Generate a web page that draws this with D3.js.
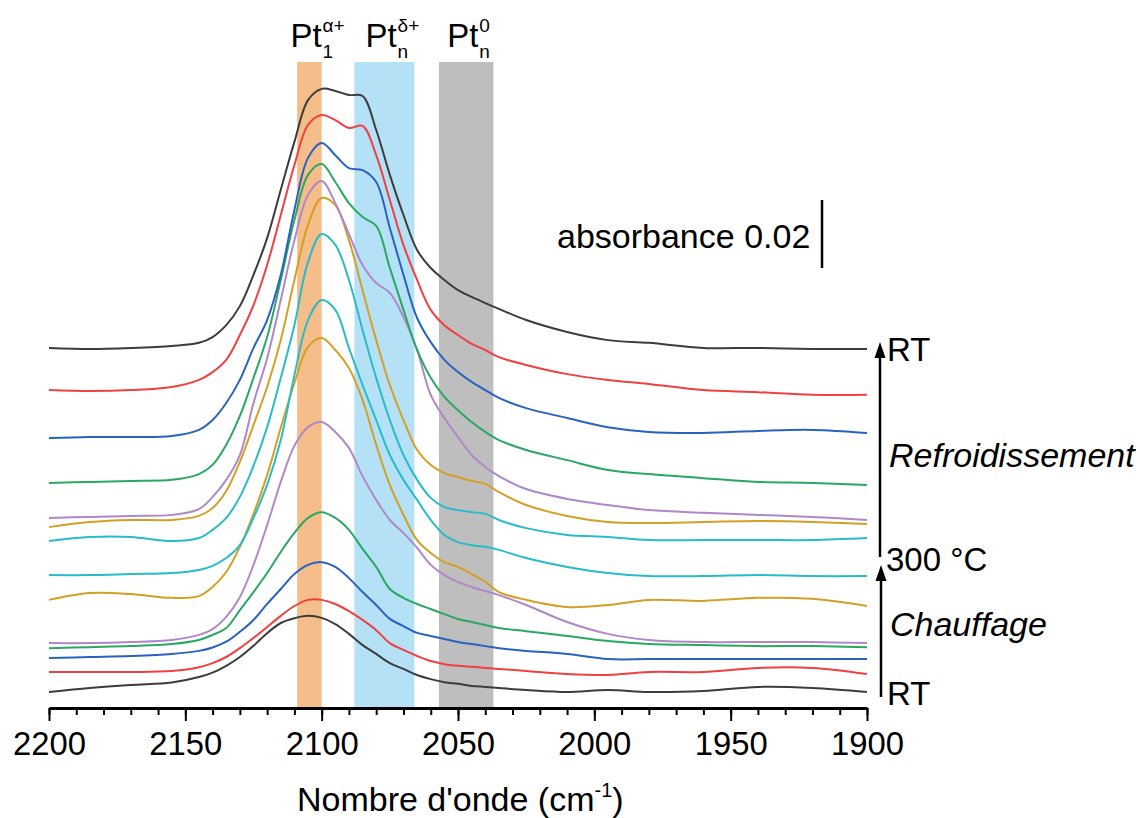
<!DOCTYPE html>
<html><head><meta charset="utf-8">
<script src="https://cdn.jsdelivr.net/npm/d3@7"></script>
<style>
body{margin:0;background:#fff;}
text{font-family:"Liberation Sans",Arial,sans-serif;fill:#000;}
</style>
</head><body>
<svg id="chart" width="1140" height="818"></svg>
<script>
// ---- DATA (absorbance in mAbs, stacked with offsets as in the figure) ----
const wavenumbers = [2200,2185,2170,2155,2145,2140,2135,2130,2125,2120,2115,2110,2105,2100,2095,2090,2085,2080,2075,2070,2065,2060,2055,2050,2045,2040,2035,2025,2010,1995,1980,1960,1940,1920,1900];

// Chauffage (heating, RT -> 300 °C)
const chauffageNoir   = [4.7,5.9,6.8,7.5,9.1,10.4,12.4,15.0,18.3,22.0,25.0,26.4,27.1,26.5,24.7,21.8,18.5,15.9,13.2,11.5,9.7,8.5,7.6,7.1,6.5,6.2,5.9,5.3,4.7,5.3,4.7,5.0,6.2,5.9,4.7];
const chauffageRouge  = [10.6,10.6,10.6,10.9,12.0,13.2,15.0,17.6,20.6,23.8,27.1,30.0,31.8,31.8,30.6,28.5,25.9,22.9,19.1,17.1,15.3,13.8,12.9,12.4,12.1,11.8,11.5,10.9,10.0,9.7,10.6,10.6,11.8,11.8,10.0];
const chauffageBleu   = [14.7,15.0,15.3,15.9,16.8,17.8,19.5,22.4,25.9,30.6,35.0,39.4,42.1,42.9,41.5,38.2,34.1,30.3,26.2,24.1,22.1,21.2,20.3,19.4,18.8,18.2,17.6,16.8,15.9,14.4,14.4,14.4,14.4,14.4,14.4];
const chauffageVert   = [17.6,17.9,18.2,18.8,20.0,21.5,23.5,28.8,34.1,39.7,45.9,51.5,55.9,57.6,55.9,52.4,46.8,41.5,35.0,32.4,30.6,29.1,27.6,26.2,25.3,24.4,23.5,22.6,21.2,19.7,18.8,18.5,18.2,18.2,17.9];
const chauffageViolet = [19.1,19.1,19.4,20.0,21.5,23.2,26.8,32.6,42.1,53.8,66.5,77.1,82.6,84.1,81.2,76.5,68.2,61.2,55.3,51.5,47.1,42.1,39.1,37.1,35.6,34.4,33.2,30.3,25.3,21.8,20.0,19.4,19.4,19.4,19.1];
const chauffageJaune  = [31.8,33.8,33.5,32.4,32.9,35.6,40.0,47.4,57.1,68.5,82.4,95.6,106.2,108.8,105.3,100.0,90.6,77.4,65.6,56.8,49.4,45.6,42.9,41.5,39.4,37.1,34.1,31.8,29.7,30.3,31.8,31.5,32.4,32.1,30.0];
const chauffageCyan   = [39.1,39.1,39.4,39.7,40.6,41.8,44.1,47.9,55.9,65.6,78.8,97.9,114.1,120.0,117.1,105.9,95.0,84.7,74.4,67.1,61.2,55.3,50.9,48.8,47.9,47.4,46.5,44.1,41.5,39.7,38.8,38.8,39.1,38.8,38.8];
// Refroidissement (cooling, 300 °C -> RT)
const refroidCyan     = [49.1,50.3,50.3,49.1,50.0,52.4,55.9,62.1,71.2,82.6,97.1,112.6,131.2,139.4,136.2,125.9,111.2,97.1,84.7,74.4,67.1,61.8,59.1,58.2,57.6,57.1,55.3,52.9,50.9,50.3,49.4,49.4,49.4,49.4,50.0];
const refroidJaune    = [53.2,54.7,55.3,55.3,56.5,58.8,63.8,72.4,83.2,94.4,108.2,125.9,142.1,150.0,147.9,137.6,122.9,108.2,95.0,84.7,75.9,71.5,69.1,67.9,66.8,65.9,63.5,59.7,56.5,54.7,54.4,54.7,55.0,54.7,54.1];
const refroidViolet   = [55.9,56.2,56.5,56.8,58.5,62.1,67.1,74.4,89.7,102.9,120.0,137.6,150.9,155.0,148.5,139.4,130.3,125.0,122.1,115.0,105.3,92.1,85.3,79.7,74.4,70.9,68.2,64.4,61.5,59.7,58.2,57.4,56.8,56.2,55.3];
const refroidVert     = [66.2,66.5,66.8,67.1,68.8,71.5,77.4,85.9,97.1,109.1,125.9,143.5,156.8,160.0,154.7,148.5,144.4,141.8,129.4,117.1,105.3,97.1,91.5,87.6,84.1,81.2,78.8,75.9,72.9,70.0,68.8,67.6,66.5,66.2,65.6];
const refroidBleu     = [79.4,79.7,79.7,80.0,81.8,84.7,89.7,96.5,105.9,114.1,127.4,146.5,161.8,166.2,162.6,158.8,158.2,154.7,141.2,127.4,114.7,107.6,102.4,98.8,95.9,93.5,91.2,88.2,85.3,82.6,81.2,80.9,81.5,81.8,80.9];
const refroidRouge    = [93.5,93.2,93.5,94.4,96.5,98.8,102.4,109.7,118.5,130.3,145.0,159.7,171.5,174.4,172.9,170.6,171.2,162.6,149.4,136.2,125.9,117.1,112.6,109.7,107.1,105.3,103.2,100.9,98.2,96.5,95.3,93.5,92.9,92.1,92.1];
const refroidNoir     = [105.9,105.6,105.9,106.5,107.4,109.1,112.6,118.2,127.4,138.2,152.4,166.5,178.8,182.1,181.5,180.3,180.0,170.0,156.8,145.0,134.7,129.4,125.9,122.9,120.9,119.1,117.4,114.1,110.6,108.2,107.4,105.9,105.9,105.6,105.6];

const spectra = [chauffageNoir, chauffageRouge, chauffageBleu, chauffageVert, chauffageViolet, chauffageJaune, chauffageCyan,
                 refroidCyan, refroidJaune, refroidViolet, refroidVert, refroidBleu, refroidRouge, refroidNoir];
const spectraColors = ["#3c3c3c","#f04040","#2a62c0","#2aa862","#b088c8","#d4a024","#28bcc8",
                       "#28bcc8","#d4a024","#b088c8","#2aa862","#2a62c0","#f04040","#3c3c3c"];

const bandRanges = [[2109,2100],[2088,2066],[2057,2037]];
const bandColors = ["#f5bd8a","#b4e1f6","#bebebe"];
const bandSup = ["\u03b1+","\u03b4+","0"];
const bandSub = ["1","n","n"];

const xMajorTicks = [2200,2150,2100,2050,2000,1950,1900];
const xMinorTicks = d3.range(2200,1899,-10);
const scaleBarValue = 20; // mAbs = 0.02

// ---- SCALES ----
const svg = d3.select("#chart");
const x = d3.scaleLinear().domain([2200,1900]).range([49,867]);
const y = d3.scaleLinear().domain([0,190]).range([708,62]);

// bands
svg.append("g").selectAll("rect").data(bandRanges).join("rect")
  .attr("x", d=>x(d[0])).attr("width", d=>x(d[1])-x(d[0]))
  .attr("y", y(190)).attr("height", y(0)-y(190))
  .attr("fill",(d,i)=>bandColors[i]);

// band labels
bandRanges.forEach((b,i)=>{
  const cx = x((b[0]+b[1])/2) - 19;
  const t = svg.append("text").attr("x",cx).attr("y",47).attr("font-size",33).text("Pt");
  const w = t.node().getComputedTextLength();
  svg.append("text").attr("x",cx+w+1).attr("y",32).attr("font-size",19).text(bandSup[i]);
  svg.append("text").attr("x",cx+w+1).attr("y",58).attr("font-size",19).text(bandSub[i]);
});

// spectra
const line = d3.line().x((d,i)=>x(wavenumbers[i])).y(d=>y(d)).curve(d3.curveCatmullRom.alpha(0.5));
svg.append("g").selectAll("path").data(spectra).join("path")
  .attr("d", line).attr("fill","none")
  .attr("stroke",(d,i)=>spectraColors[i]).attr("stroke-width",2);

// x axis
const axG = svg.append("g").attr("transform",`translate(0,${y(0)})`);
axG.call(d3.axisBottom(x).tickValues(xMinorTicks).tickSize(7).tickFormat(""))
  .call(g=>g.select(".domain").remove())
  .call(g=>g.selectAll("line").attr("stroke","#000").attr("stroke-width",2));
const axM = svg.append("g").attr("transform",`translate(0,${y(0)})`);
axM.call(d3.axisBottom(x).tickValues(xMajorTicks).tickSize(13).tickSizeOuter(0).tickPadding(10.5).tickFormat(d3.format("d")))
  .call(g=>g.select(".domain").attr("stroke","#000").attr("stroke-width",3))
  .call(g=>g.selectAll("line").attr("stroke","#000").attr("stroke-width",2))
  .call(g=>g.selectAll("text").attr("font-size",33).attr("fill","#000")
      .attr("font-family","'Liberation Sans',Arial,sans-serif")
      .attr("textLength",73).attr("lengthAdjust","spacingAndGlyphs"));

// axis title
const title = svg.append("text").attr("x",297).attr("y",811).attr("font-size",34);
title.append("tspan").text("Nombre d'onde (cm");
title.append("tspan").attr("font-size",20).attr("dy",-14).text("-1");
title.append("tspan").attr("dy",14).text(")");

// scale bar
svg.append("line").attr("x1",x(1916.5)).attr("x2",x(1916.5))
  .attr("y1",y(129.4)).attr("y2",y(129.4+scaleBarValue))
  .attr("stroke","#000").attr("stroke-width",2.5);
svg.append("text").attr("x",557).attr("y",248).attr("font-size",34).text("absorbance 0.02");

// arrows
function arrow(xp, yBottom, yTip){
  svg.append("line").attr("x1",xp).attr("x2",xp).attr("y1",yBottom).attr("y2",yTip+12)
    .attr("stroke","#000").attr("stroke-width",2.5);
  svg.append("path").attr("d",`M${xp},${yTip} L${xp-5.5},${yTip+16} L${xp+5.5},${yTip+16} Z`).attr("fill","#000");
}
arrow(881, 697, 565);
arrow(880, 557, 342);

// right labels
svg.append("text").attr("x",887).attr("y",361).attr("font-size",33).text("RT");
svg.append("text").attr("x",889).attr("y",467).attr("font-size",34).attr("font-style","italic").text("Refroidissement");
svg.append("text").attr("x",886).attr("y",571).attr("font-size",33).text("300 \u00b0C");
svg.append("text").attr("x",890).attr("y",636).attr("font-size",34).attr("font-style","italic").text("Chauffage");
svg.append("text").attr("x",887).attr("y",705).attr("font-size",33).text("RT");
</script>
</body></html>
